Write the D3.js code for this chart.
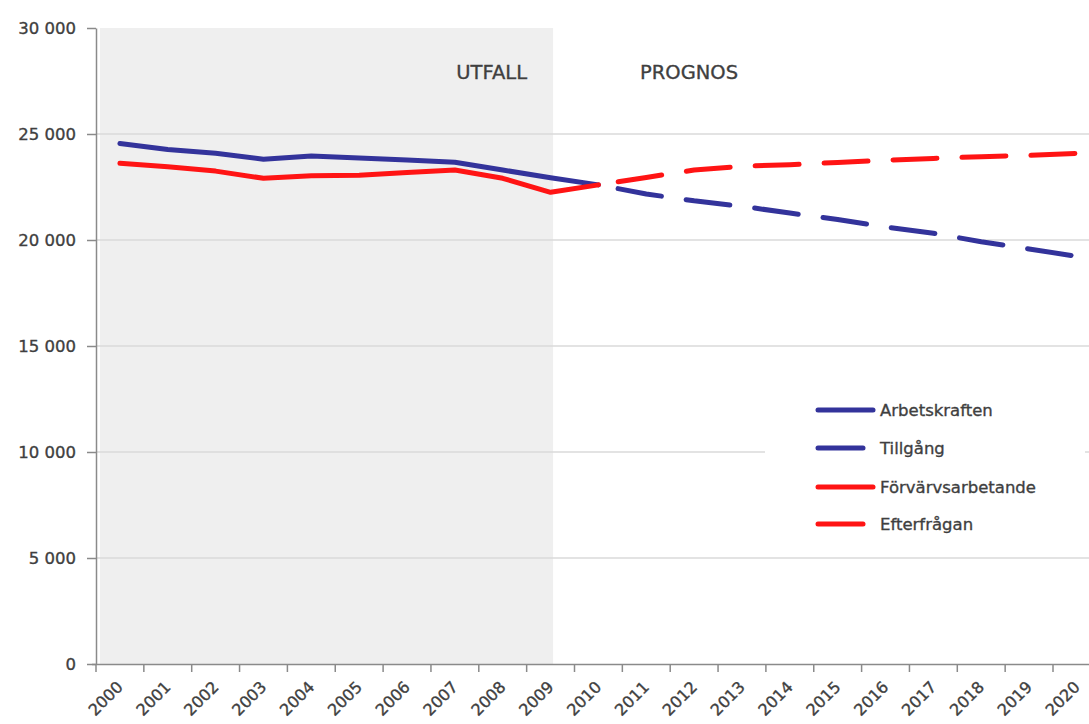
<!DOCTYPE html>
<html><head><meta charset="utf-8">
<script src="https://cdn.jsdelivr.net/npm/d3@7"></script>
<style>
body{margin:0;background:#fff}
svg{display:block}
text{font-family:"DejaVu Sans",sans-serif;fill:#3f3f3f;stroke:#3f3f3f;stroke-width:0.35px}
</style>
</head><body>
<svg id="c" width="1089" height="724"></svg>
<script>
// ---- data ----
const years = ["2000","2001","2002","2003","2004","2005","2006","2007","2008","2009","2010",
               "2011","2012","2013","2014","2015","2016","2017","2018","2019","2020"];
const outcomeYears = years.slice(0, 11);   // 2000-2010
const forecastYears = years.slice(10);     // 2010-2020
const arbetskraften = [24550,24270,24090,23810,23960,23870,23770,23670,23300,22940,22600];
const forvarvsarbetande = [23620,23460,23250,22910,23030,23050,23180,23300,22910,22250,22600];
const tillgang = [22600,22170,21850,21590,21270,20970,20610,20320,19920,19580,19230];
const efterfragan = [22600,22950,23300,23480,23550,23660,23760,23850,23930,23990,24090];
const yTicks = [0,5000,10000,15000,20000,25000,30000];
const seriesNames = ["Arbetskraften","Tillgång","Förvärvsarbetande","Efterfrågan"];
const annotations = ["UTFALL","PROGNOS"];

// ---- setup ----
const W = 1089, H = 724;
const svg = d3.select("#c");
const BLUE = "#33339b", RED = "#ff1414";
const x = d3.scaleBand().domain(years).range([96, 96 + 47.85 * years.length]).padding(0);
const y = d3.scaleLinear().domain([0, 30000]).range([664, 28]);
const cx = d => x(d) + x.bandwidth() / 2;
const fmt = d3.formatLocale({decimal: ",", thousands: " ", grouping: [3], currency: ["", ""]}).format(",d");

// shaded outcome region
svg.append("rect")
  .attr("x", x(years[0]) + 4).attr("y", y(30000))
  .attr("width", cx("2009") + 2.5 - (x(years[0]) + 4))
  .attr("height", y(0) - y(30000))
  .attr("fill", "#efefef");

// gridlines
svg.append("g").selectAll("line").data(yTicks.filter(t => t > 0 && t < 30000)).join("line")
  .attr("x1", 96).attr("x2", W)
  .attr("y1", d => y(d)).attr("y2", d => y(d))
  .attr("stroke", "#dadada").attr("stroke-width", 1.5);

// legend background
svg.append("rect").attr("x", 765).attr("y", 388).attr("width", 320).attr("height", 155).attr("fill", "#fff");

// y axis
const yAxis = svg.append("g").attr("transform", "translate(96,0)")
  .call(d3.axisLeft(y).tickValues(yTicks).tickSize(9).tickSizeOuter(0).tickPadding(11).tickFormat(fmt));
yAxis.select(".domain").attr("stroke", "#8a8a8a").attr("stroke-width", 1.5);
yAxis.selectAll(".tick line").attr("stroke", "#8a8a8a").attr("stroke-width", 1.5);
yAxis.selectAll(".tick text").attr("font-size", 16.5).attr("fill", "#3f3f3f")
  .style("font-family", "'DejaVu Sans',sans-serif");

// x axis
svg.append("line").attr("x1", 92).attr("x2", W).attr("y1", y(0) + 0.5).attr("y2", y(0) + 0.5)
  .attr("stroke", "#8a8a8a").attr("stroke-width", 1.5);
const bounds = d3.range(years.length + 1).map(i => x.range()[0] + i * x.bandwidth()).filter(v => v < W);
svg.append("g").selectAll("line").data(bounds).join("line")
  .attr("x1", d => d).attr("x2", d => d).attr("y1", y(0)).attr("y2", y(0) + 8)
  .attr("stroke", "#8a8a8a").attr("stroke-width", 1.5);
svg.append("g").selectAll("text").data(years).join("text")
  .attr("transform", d => `translate(${cx(d) + 4},${688}) rotate(-45)`)
  .attr("text-anchor", "end").attr("font-size", 16).text(d => d);

// annotations
svg.append("text").attr("x", 527).attr("y", 79).attr("text-anchor", "end").attr("font-size", 19.5).text(annotations[0]);
svg.append("text").attr("x", 640).attr("y", 79).attr("font-size", 19.5).text(annotations[1]);

// lines
const line = d3.line().x(d => cx(d[0])).y(d => y(d[1]));
const lines = [
  {yrs: outcomeYears, vals: arbetskraften, color: BLUE, dash: null},
  {yrs: forecastYears, vals: tillgang, color: BLUE, dash: "44 25"},
  {yrs: outcomeYears, vals: forvarvsarbetande, color: RED, dash: null},
  {yrs: forecastYears, vals: efterfragan, color: RED, dash: "44 25"}
];
// draw dashed first, then solid
[1,3,0,2].forEach(i => {
  const s = lines[i];
  const p = svg.append("path")
    .attr("d", line(s.yrs.map((yr, k) => [yr, s.vals[k]])))
    .attr("fill", "none").attr("stroke", s.color).attr("stroke-width", 5)
    .attr("stroke-linejoin", "round").attr("stroke-linecap", "round");
  if (s.dash) p.attr("stroke-dasharray", s.dash).attr("stroke-dashoffset", 49);
});

// legend
const legY = [410, 448, 487, 524];
const lg = svg.append("g");
seriesNames.forEach((name, i) => {
  const s = lines[i];
  lg.append("line").attr("x1", 818).attr("x2", s.dash ? 863 : 873)
    .attr("y1", legY[i]).attr("y2", legY[i])
    .attr("stroke", s.color).attr("stroke-width", 5).attr("stroke-linecap", "round");
  lg.append("text").attr("x", 880).attr("y", legY[i]).attr("dy", "0.36em")
    .attr("font-size", 16.5).text(name);
});
</script>
</body></html>
